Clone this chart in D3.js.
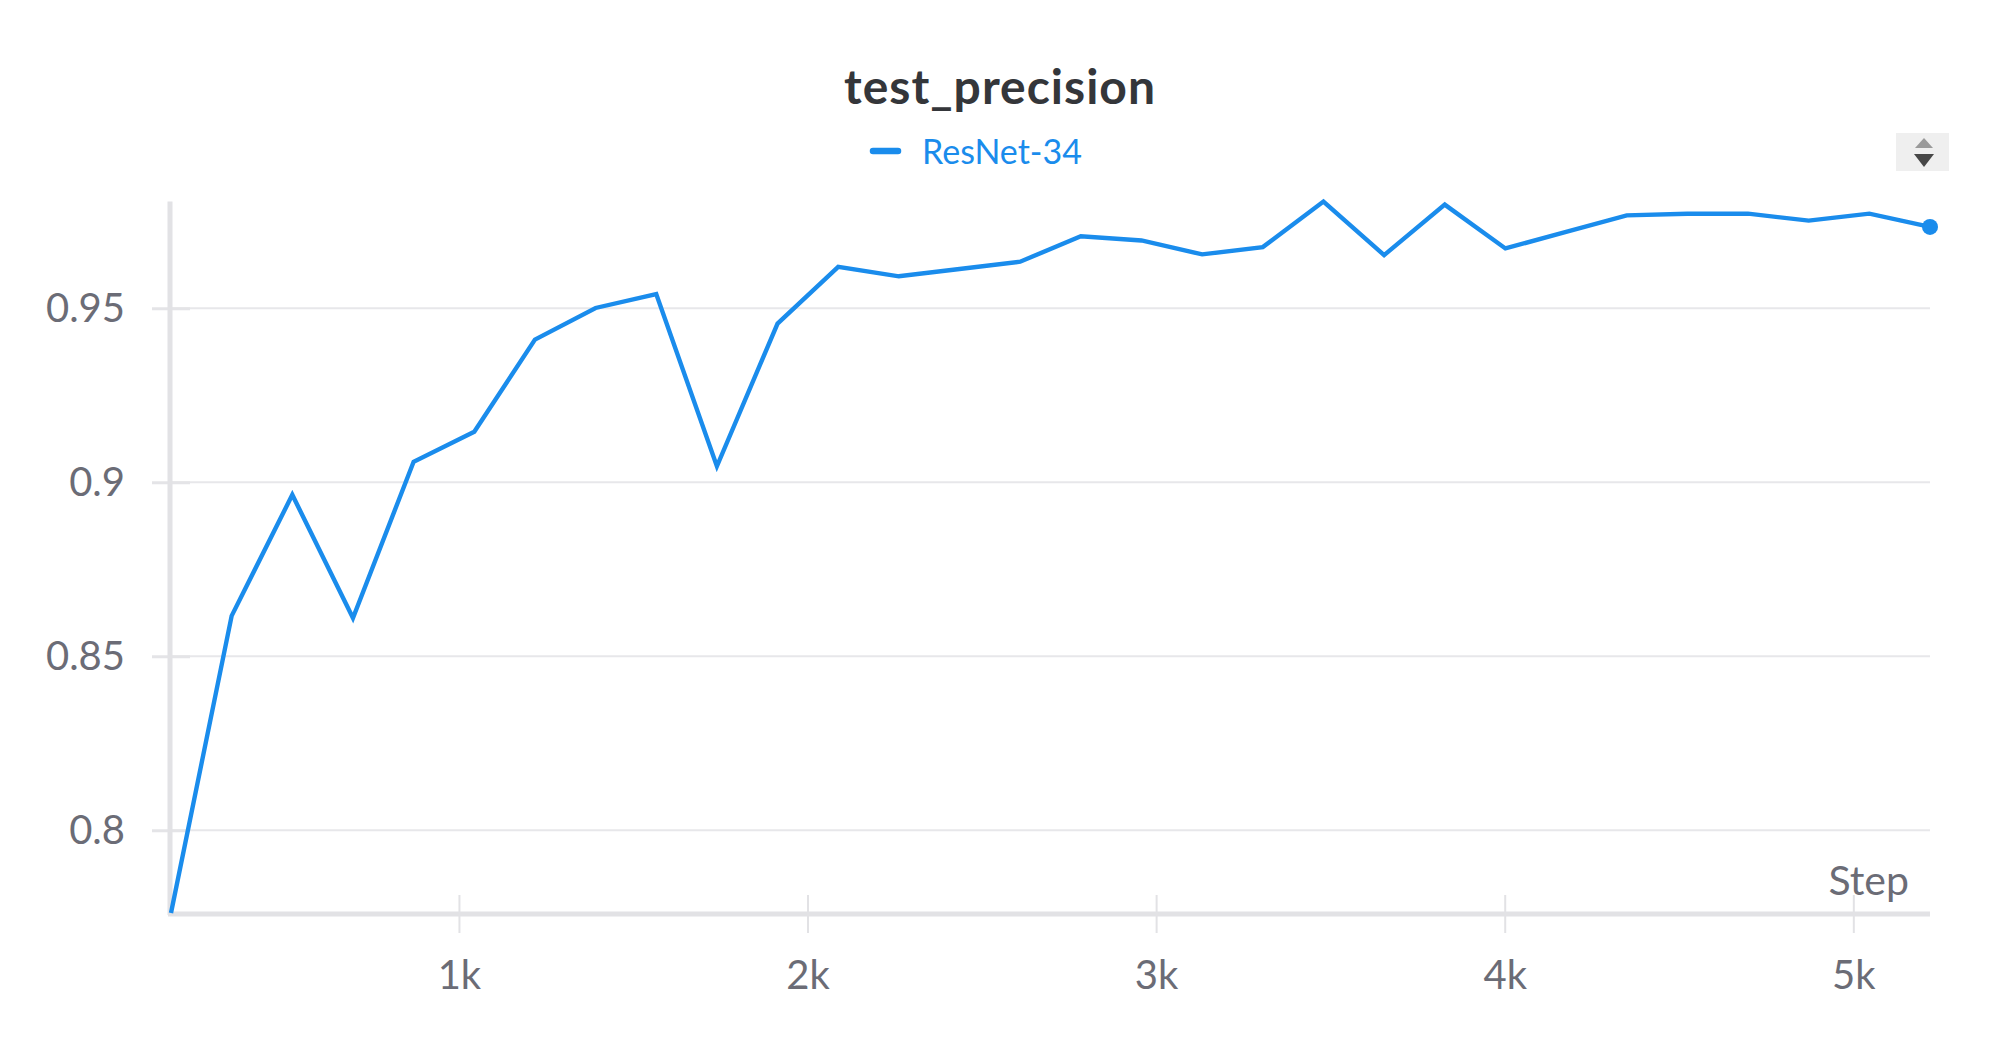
<!DOCTYPE html>
<html>
<head>
<meta charset="utf-8">
<script src="https://cdn.jsdelivr.net/npm/d3@7"></script>
<style>
  html, body { margin: 0; padding: 0; background: #ffffff; }
  svg { display: block; }
</style>
</head>
<body>
<svg id="chart" width="2000" height="1050"></svg>
<script>
// ---- data ----
const title = "test_precision";
const seriesName = "ResNet-34";
const steps = [174, 348, 522, 696, 870, 1044, 1218, 1392, 1566, 1740,
               1914, 2088, 2262, 2436, 2610, 2784, 2958, 3132, 3306, 3480,
               3654, 3828, 4002, 4176, 4350, 4524, 4698, 4872, 5046, 5220];
const precision = [0.7762, 0.8616, 0.8964, 0.8610, 0.9059, 0.9145, 0.9410, 0.9501, 0.9541, 0.9046,
                   0.9456, 0.9619, 0.9592, 0.9613, 0.9634, 0.9707, 0.9695, 0.9655, 0.9676, 0.9807,
                   0.9653, 0.9798, 0.9672, 0.9720, 0.9767, 0.9772, 0.9772, 0.9752, 0.9772, 0.9734];
const yTicks = [0.8, 0.85, 0.9, 0.95];
const yTickLabels = ["0.8", "0.85", "0.9", "0.95"];
const xTicks = [1000, 2000, 3000, 4000, 5000];
const xTickLabels = ["1k", "2k", "3k", "4k", "5k"];
const xAxisLabel = "Step";

// ---- layout ----
const FONT = "Lato, 'Noto Sans', sans-serif";
const BLUE = "#1a8cec";
const plot = { left: 171, right: 1930, top: 201.5, bottom: 913 };

const svg = d3.select("#chart");

const x = d3.scaleLinear().domain(d3.extent(steps)).range([plot.left, plot.right]);
const y = d3.scaleLinear().domain(d3.extent(precision)).range([plot.bottom, plot.top]);

// gridlines
svg.append("g")
  .selectAll("line").data(yTicks).join("line")
  .attr("x1", plot.left).attr("x2", plot.right)
  .attr("y1", d => y(d)).attr("y2", d => y(d))
  .attr("stroke", "#e7e7ea").attr("stroke-width", 2);

// y axis
const yAxis = svg.append("g")
  .attr("transform", `translate(${plot.left},0)`)
  .call(d3.axisLeft(y).tickValues(yTicks).tickFormat((d, i) => yTickLabels[i]).tickSize(19).tickPadding(27));
yAxis.select(".domain").remove();
yAxis.selectAll(".tick line").attr("stroke", "#e4e4e7").attr("stroke-width", 3).attr("x2", 19).attr("x1", -19);
yAxis.selectAll(".tick text")
  .attr("font-family", FONT).attr("font-size", 40).attr("fill", "#6b6c76").attr("x", -46);
svg.append("line")
  .attr("x1", plot.left - 1).attr("x2", plot.left - 1)
  .attr("y1", plot.top).attr("y2", plot.bottom + 2)
  .attr("stroke", "#e2e2e5").attr("stroke-width", 5);

// x axis
const xAxis = svg.append("g")
  .attr("transform", `translate(0,${plot.bottom})`)
  .call(d3.axisBottom(x).tickValues(xTicks).tickFormat((d, i) => xTickLabels[i]).tickSize(20).tickPadding(28));
xAxis.select(".domain").remove();
xAxis.selectAll(".tick line").attr("stroke", "#e2e2e5").attr("stroke-width", 2).attr("y1", -18).attr("y2", 20);
xAxis.selectAll(".tick text")
  .attr("font-family", FONT).attr("font-size", 40).attr("fill", "#6b6c76");
svg.append("line")
  .attr("x1", plot.left - 3).attr("x2", plot.right)
  .attr("y1", plot.bottom + 1).attr("y2", plot.bottom + 1)
  .attr("stroke", "#e2e2e5").attr("stroke-width", 5);

svg.append("text")
  .attr("x", 1909).attr("y", 895)
  .attr("text-anchor", "end")
  .attr("font-family", FONT).attr("font-size", 41).attr("fill", "#6b6c76")
  .text(xAxisLabel);

// line
const data = steps.map((s, i) => ({ s, v: precision[i] }));
svg.append("path")
  .datum(data)
  .attr("fill", "none")
  .attr("stroke", BLUE)
  .attr("stroke-width", 4.4)
  .attr("stroke-linejoin", "miter")
  .attr("d", d3.line().x(d => x(d.s)).y(d => y(d.v)));

const last = data[data.length - 1];
svg.append("circle")
  .attr("cx", x(last.s)).attr("cy", y(last.v)).attr("r", 8)
  .attr("fill", BLUE);

// title
svg.append("text")
  .attr("x", 1000).attr("y", 104)
  .attr("text-anchor", "middle")
  .attr("font-family", FONT).attr("font-weight", 700).attr("font-size", 48)
  .attr("letter-spacing", 1)
  .attr("fill", "#34363a")
  .text(title);

// legend
svg.append("line")
  .attr("x1", 873).attr("x2", 898).attr("y1", 151).attr("y2", 151)
  .attr("stroke", BLUE).attr("stroke-width", 6.5).attr("stroke-linecap", "round");
svg.append("text")
  .attr("x", 922).attr("y", 164)
  .attr("font-family", FONT).attr("font-size", 34).attr("fill", BLUE)
  .text(seriesName);

// sort button
const btn = svg.append("g");
btn.append("rect").attr("x", 1896).attr("y", 133).attr("width", 53).attr("height", 38)
  .attr("fill", "#efefef");
btn.append("path").attr("d", "M1915,148 L1933,148 L1924,138 Z").attr("fill", "#9a9a9a");
btn.append("path").attr("d", "M1914,154 L1934,154 L1924,167 Z").attr("fill", "#474747");
</script>
</body>
</html>
